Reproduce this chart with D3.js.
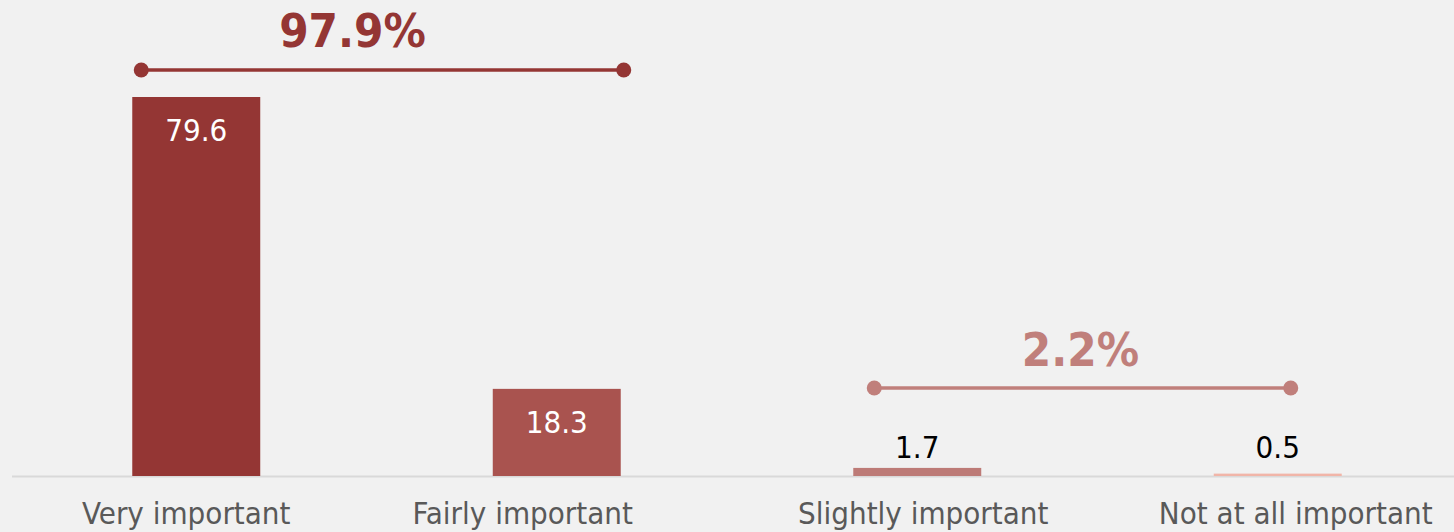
<!DOCTYPE html>
<html><head><meta charset="utf-8">
<script src="https://cdn.jsdelivr.net/npm/d3@7/dist/d3.min.js"></script>
<style>html,body{margin:0;padding:0;background:#f1f1f1;}svg{display:block;}</style>
</head><body><svg id="c" width="1454" height="532"></svg>
<script>
const categories = ["Very important", "Fairly important", "Slightly important", "Not at all important"];
const values = [79.6, 18.3, 1.7, 0.5];
const barColors = ["#943634", "#a9534f", "#bd7b77", "#f1b5a8"];
const groupLabels = ["97.9%", "2.2%"];
const groupColors = ["#943634", "#c07f7b"];

const W = 1454, H = 532;
const svg = d3.select("#c");
svg.append("rect").attr("width", W).attr("height", H).attr("fill", "#f1f1f1");

const baseY = 476;
const x = d3.scaleBand().domain(categories).range([16, 1458]).paddingInner(0.645).paddingOuter(0.3225);
const y = d3.scaleLinear().domain([0, 79.6]).range([baseY, 97]);

const font = "'DejaVu Sans Condensed', 'DejaVu Sans', sans-serif";

// baseline
svg.append("line").attr("x1", 12).attr("x2", W).attr("y1", baseY + 0.5).attr("y2", baseY + 0.5)
  .attr("stroke", "#d9d9d9").attr("stroke-width", 2);

svg.selectAll("rect.bar").data(values).join("rect").attr("class", "bar")
  .attr("x", (d, i) => x(categories[i])).attr("width", x.bandwidth())
  .attr("y", d => y(d)).attr("height", d => baseY - y(d))
  .attr("fill", (d, i) => barColors[i]);

// value labels
svg.selectAll("text.val").data(values).join("text").attr("class", "val")
  .attr("x", (d, i) => x(categories[i]) + x.bandwidth() / 2)
  .attr("y", (d, i) => i < 2 ? y(d) + 44 : 458)
  .attr("text-anchor", "middle").attr("font-family", font).attr("font-size", 31)
  .attr("fill", (d, i) => i < 2 ? "#ffffff" : "#000000")
  .text(d => d.toFixed(1));

// axis labels
const labelShift = [-10, -34, 6, 18];
const xAxis = d3.axisBottom(x).tickSize(0).tickPadding(0);
const ax = svg.append("g").attr("transform", `translate(0,${baseY})`).call(xAxis);
ax.select(".domain").remove();
ax.selectAll("text").attr("font-family", font).attr("font-size", 31).attr("fill", "#595959")
  .attr("dy", null).attr("y", 48).attr("x", (d, i) => labelShift[i]);

// brackets
const brackets = [
  {x1: x(categories[0]) + 9, x2: x(categories[1]) + x.bandwidth() + 3, y: 70, ty: 47, tx: -30, label: groupLabels[0], color: groupColors[0]},
  {x1: x(categories[2]) + 21, x2: x(categories[3]) + x.bandwidth() - 51, y: 388, ty: 366, tx: -2, label: groupLabels[1], color: groupColors[1]}
];
brackets.forEach(b => {
  const g = svg.append("g");
  g.append("line").attr("x1", b.x1).attr("x2", b.x2).attr("y1", b.y).attr("y2", b.y)
    .attr("stroke", b.color).attr("stroke-width", 3.5);
  [b.x1, b.x2].forEach(cx => g.append("circle").attr("cx", cx).attr("cy", b.y).attr("r", 7.5).attr("fill", b.color));
  g.append("text").attr("x", (b.x1 + b.x2) / 2 + b.tx).attr("y", b.ty).attr("text-anchor", "middle")
    .attr("font-family", font).attr("font-weight", "bold").attr("font-size", 47)
    .attr("fill", b.color).text(b.label);
});
</script></body></html>
